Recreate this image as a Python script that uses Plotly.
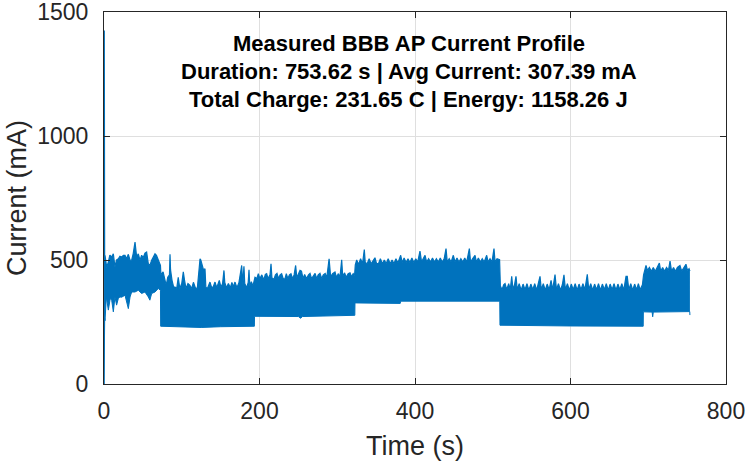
import plotly.graph_objects as go

# ---- data (time in s, current in mA) ----
# top edge of the dense measured trace, per load segment
start_top = [(0.0, 0), (0.4, 1425), (0.9, 420)]
seg1_top = [(1.3, 519), (3.5, 470), (5.6, 492), (7.5, 520), (9.9, 512), (12.0, 525), (14.1, 472),
            (16.0, 500), (18.4, 505), (20.5, 515), (22.7, 512), (25.0, 519), (27.0, 519), (29.0, 505),
            (31.3, 523), (33.5, 499), (35.6, 499), (37.5, 525), (39.9, 572), (42.0, 512), (44.1, 525),
            (46.3, 499), (48.4, 519), (50.5, 510), (52.7, 528), (54.8, 532), (57.0, 485), (59.0, 478),
            (61.3, 499), (63.5, 512), (65.6, 525), (67.5, 519), (69.8, 499), (71.5, 485), (72.6, 478)]
seg2_top = [(73.2, 440), (74.2, 445), (76.0, 452), (78.0, 425), (80.0, 398), (82.0, 430), (84.2, 440),
            (84.9, 523), (85.6, 460), (87.5, 418), (89.5, 392), (91.3, 391), (93.5, 385), (95.5, 430),
            (97.5, 385), (100.0, 405), (102.0, 452), (103.5, 420), (105.5, 385), (108.0, 405),
            (110.5, 398), (112.8, 385), (115.0, 410), (117.5, 388), (120.0, 385), (122.5, 470),
            (123.5, 505), (124.5, 500), (126.0, 480), (128.0, 460), (129.9, 465), (131.0, 390),
            (133.0, 385), (135.0, 405), (136.3, 411), (138.5, 388), (140.5, 392), (142.8, 411),
            (145.0, 388), (148.3, 418), (150.5, 390), (152.5, 405), (154.3, 458), (155.3, 410),
            (157.5, 388), (160.0, 405), (162.5, 388), (164.5, 410), (166.3, 392), (168.5, 411),
            (171.0, 388), (173.5, 408), (176.5, 475), (177.1, 478), (178.5, 400), (180.0, 475),
            (181.0, 405), (183.5, 388), (185.5, 410), (186.5, 461), (187.5, 395), (189.5, 412),
            (191.5, 395), (193.3, 415)]
seg3_top = [(194.2, 430), (196.5, 425), (198.5, 445), (200.5, 425), (203.0, 440), (205.5, 420),
            (207.5, 442), (209.2, 445), (211.0, 425), (213.5, 440), (214.8, 485), (216.0, 428),
            (218.5, 422), (220.5, 440), (222.5, 446), (224.5, 425), (226.5, 440), (228.5, 445),
            (230.5, 425), (232.5, 422), (234.5, 445), (236.5, 425), (238.5, 440), (240.5, 445),
            (242.5, 425), (244.5, 440), (246.5, 478), (248.0, 428), (250.0, 440), (252.1, 458),
            (254.0, 455), (256.0, 425), (258.0, 442), (260.5, 425), (263.0, 440), (265.0, 446),
            (267.0, 425), (269.5, 440), (271.5, 446), (273.5, 425), (275.5, 440), (277.8, 446),
            (280.0, 425), (282.0, 440), (284.5, 446), (286.5, 428), (289.5, 505), (291.5, 432),
            (294.0, 445), (297.1, 452), (299.0, 430), (301.5, 445), (303.5, 430), (305.7, 501),
            (307.0, 435), (309.5, 448), (311.5, 430), (314.0, 445), (316.4, 448), (318.5, 432),
            (320.5, 445), (322.3, 438)]
seg4_top = [(323.2, 480), (325.0, 500), (327.5, 482), (330.0, 505), (332.5, 485), (334.8, 542),
            (336.0, 490), (338.5, 485), (341.0, 505), (343.5, 485), (346.0, 500), (348.5, 509),
            (350.5, 486), (353.0, 485), (355.5, 505), (358.0, 485), (360.5, 500), (363.0, 486),
            (365.5, 505), (368.0, 485), (370.5, 500), (373.0, 486), (375.5, 505), (378.0, 488),
            (381.6, 519), (383.5, 490), (386.0, 508), (388.5, 490), (391.0, 505), (393.5, 490),
            (396.0, 508), (398.5, 490), (401.0, 505), (403.5, 492), (406.4, 536), (408.5, 492),
            (410.5, 505), (412.9, 519), (415.0, 492), (417.5, 505), (420.0, 492), (422.5, 508),
            (425.0, 492), (427.5, 505), (430.0, 492), (432.5, 508), (435.0, 492), (437.5, 505),
            (439.9, 546), (441.5, 492), (444.0, 505), (446.5, 492), (449.3, 519), (451.5, 492),
            (454.0, 508), (456.5, 492), (459.0, 505), (461.5, 492), (464.0, 508), (466.5, 492),
            (469.9, 546), (471.5, 492), (474.0, 505), (477.2, 519), (479.0, 492), (481.5, 508),
            (484.0, 492), (486.5, 505), (489.0, 492), (492.2, 519), (494.0, 492), (496.5, 505),
            (499.0, 492), (501.6, 546), (503.0, 492), (505.5, 505), (508.8, 501)]
seg5_top = [(509.8, 395), (512.0, 380), (514.0, 400), (515.8, 405), (518.0, 380), (520.5, 405),
            (522.5, 380), (524.4, 434), (526.0, 380), (528.0, 400), (529.9, 434), (531.5, 380),
            (534.0, 405), (536.5, 378), (539.0, 403), (541.5, 380), (544.0, 405), (546.5, 378),
            (549.0, 403), (551.5, 380), (554.0, 405), (556.5, 378), (558.5, 400), (560.8, 434),
            (562.5, 380), (565.0, 405), (567.5, 378), (570.0, 403), (572.5, 380), (575.0, 418),
            (577.0, 380), (580.1, 441), (582.0, 380), (584.5, 405), (587.0, 378), (589.5, 400),
            (591.6, 440), (593.5, 380), (596.0, 405), (598.5, 378), (601.0, 403), (603.5, 380),
            (606.0, 405), (608.5, 378), (611.0, 403), (613.5, 380), (616.0, 405), (618.5, 380),
            (621.6, 442), (623.5, 380), (626.0, 405), (628.5, 378), (631.0, 403), (633.5, 380),
            (636.0, 405), (638.5, 378), (641.0, 403), (643.5, 380), (646.0, 405), (648.5, 378),
            (651.0, 403), (653.5, 380), (656.0, 405), (658.5, 378), (661.0, 403), (663.5, 380),
            (666.0, 405), (668.5, 378), (671.4, 434), (673.0, 434), (675.0, 380), (677.5, 405),
            (680.0, 378), (682.5, 403), (685.0, 380), (687.3, 405), (689.5, 380), (692.5, 400)]
seg6_top = [(694.0, 440), (695.5, 465), (697.1, 478), (699.0, 458), (701.5, 470), (704.0, 455),
            (706.5, 470), (709.0, 455), (711.5, 468), (714.3, 488), (716.0, 455), (718.5, 470),
            (721.0, 455), (723.5, 470), (726.0, 458), (728.0, 496), (730.0, 455), (732.5, 470),
            (735.0, 455), (737.5, 470), (740.8, 478), (743.0, 455), (745.5, 468), (748.5, 483),
            (750.5, 458), (752.5, 465), (753.6, 455)]

# bottom edge of the dense measured trace
bottom_edge = [(0.0, 0), (0.9, 265), (1.3, 255), (3.0, 351), (5.6, 298), (8.0, 345), (9.9, 338),
               (12.0, 291), (14.1, 351), (16.2, 318), (18.4, 345), (20.5, 351), (22.7, 350),
               (27.0, 358), (31.3, 304), (33.5, 351), (35.6, 371), (39.9, 371), (44.1, 378),
               (48.4, 365), (52.7, 371), (57.0, 351), (59.0, 338), (61.3, 365), (65.6, 371),
               (69.8, 385), (72.6, 378), (72.9, 233), (110.0, 230), (125.0, 228), (150.0, 231),
               (193.4, 233), (193.6, 273), (250.0, 272), (253.0, 265), (255.0, 272), (322.6, 277),
               (322.8, 327), (381.0, 325), (381.6, 334), (509.0, 334), (509.3, 237), (600.0, 234),
               (693.5, 233), (693.7, 291), (705.0, 290), (705.7, 271), (706.5, 290), (753.4, 292),
               (753.6, 278)]

title_lines = ["Measured BBB AP Current Profile",
               "Duration: 753.62 s | Avg Current: 307.39 mA",
               "Total Charge: 231.65 C | Energy: 1158.26 J"]
x_ticks = [0, 200, 400, 600, 800]
y_ticks = [0, 500, 1000, 1500]

BLUE = "#0072BD"
AX = "#262626"
FONT = "Liberation Sans, Arial, Helvetica, sans-serif"

top = start_top + seg1_top + seg2_top + seg3_top + seg4_top + seg5_top + seg6_top

fig = go.Figure()
fig.add_trace(go.Scatter(x=[p[0] for p in bottom_edge], y=[p[1] for p in bottom_edge],
                         mode="lines", line=dict(color=BLUE, width=1), hoverinfo="skip"))
fig.add_trace(go.Scatter(x=[p[0] for p in top], y=[p[1] for p in top],
                         mode="lines", line=dict(color=BLUE, width=1.2),
                         fill="tonexty", fillcolor=BLUE, hoverinfo="skip"))

ys = [0.914, 0.840, 0.766]
for txt, yy in zip(title_lines, ys):
    fig.add_annotation(text=f"<b>{txt}</b>", xref="paper", yref="paper", x=0.49, y=yy,
                       xanchor="center", yanchor="middle", showarrow=False,
                       font=dict(family=FONT, size=22, color="#000000"))

axis_common = dict(showgrid=True, gridcolor="#DFDFDF", gridwidth=1, zeroline=False,
                   showline=True, linecolor=AX, linewidth=1, mirror="ticks",
                   ticks="inside", ticklen=6, tickcolor=AX, tickwidth=1, automargin=False,
                   ticklabeloverflow="allow",
                   tickfont=dict(family=FONT, size=23, color=AX))
fig.update_xaxes(range=[0, 800], tickvals=x_ticks, ticktext=[str(v) for v in x_ticks],
                 title=dict(text="Time (s)", font=dict(family=FONT, size=27, color=AX), standoff=14),
                 ticklabelstandoff=6, **axis_common)
fig.update_yaxes(range=[0, 1500], tickvals=y_ticks, ticktext=[str(v) for v in y_ticks],
                 title=dict(text="Current (mA)", font=dict(family=FONT, size=27, color=AX), standoff=2),
                 ticklabelstandoff=10, **axis_common)
fig.update_layout(width=748, height=461, autosize=False,
                  margin=dict(l=104, r=22, t=12, b=77),
                  plot_bgcolor="white", paper_bgcolor="white", showlegend=False,
                  font=dict(family=FONT, color=AX))
fig.write_html("out.html", config={"displayModeBar": False, "staticPlot": True},
               post_script="document.body.style.margin='0';document.body.style.overflow='hidden';")
